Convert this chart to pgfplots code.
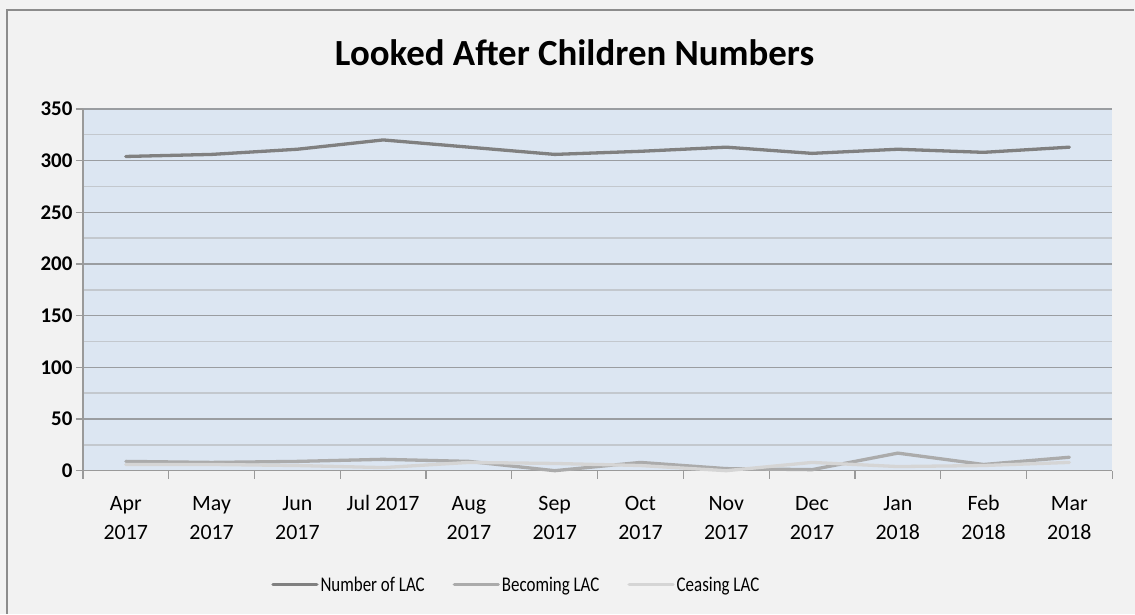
\documentclass[border=0pt]{standalone}
\usepackage{fontspec}
\setmainfont{Carlito}
\newfontfamily\legendfont[FakeStretch=0.81]{Carlito}
\usepackage{pgfplots}
\pgfplotsset{compat=1.18}
\usetikzlibrary{backgrounds}

\definecolor{chartbg}{HTML}{F2F2F2}
\definecolor{plotbg}{HTML}{DCE6F2}
\definecolor{framegray}{HTML}{8C8C8C}
\definecolor{majorgrid}{HTML}{9A9DA1}
\definecolor{minorgrid}{HTML}{C3C8CE}
\definecolor{axisgray}{HTML}{9A9A9A}
\definecolor{lacdark}{HTML}{808080}
\definecolor{lacmid}{HTML}{ABABAB}
\definecolor{laclight}{HTML}{D5D5D5}

\begin{document}
\begin{tikzpicture}[show background rectangle,
  background rectangle/.style={fill=chartbg, draw=none},
  inner frame sep=0pt]
\begin{axis}[
  scale only axis, width=1030bp, height=362bp,
  xmin=0.5, xmax=12.5, ymin=0, ymax=350,
  clip=false,
  axis line style={draw=none},
  axis background/.style={fill=plotbg},
  tick pos=left,
  tick align=outside,
  major tick length=7bp, minor tick length=8bp,
  xtick={1,...,12},
  xticklabels={{\strut Apr\\2017},{\strut May\\2017},{\strut Jun\\2017},{\strut Jul 2017},{\strut Aug\\2017},{\strut Sep\\2017},{\strut Oct\\2017},{\strut Nov\\2017},{\strut Dec\\2017},{\strut Jan\\2018},{\strut Feb\\2018},{\strut Mar\\2018}},
  minor xtick={0.5,1.5,...,12.5},
  major x tick style={draw=none},
  minor x tick style={axisgray, line width=1.2bp},
  xticklabel style={align=center, font=\fontsize{22}{29}\selectfont, anchor=north, yshift=-9bp},
  ytick={0,50,...,350},
  minor ytick={25,75,...,325},
  major y tick style={axisgray, line width=1.2bp},
  minor y tick style={draw=none},
  yticklabel style={font=\fontsize{21}{21}\selectfont\bfseries},
  /pgf/number format/assume math mode=true,
  ymajorgrids, yminorgrids,
  major grid style={majorgrid, line width=1.4bp},
  minor grid style={minorgrid, line width=1.4bp},
  legend columns=3,
  legend style={at={(0.421,-0.315)}, anchor=center, draw=none, fill=none,
    font=\legendfont\fontsize{21}{21}\selectfont,
    /tikz/every even column/.append style={column sep=26bp}},
  legend image code/.code={\draw[#1] (0bp,0bp) -- (44bp,0bp);},
  every axis plot/.append style={line join=round, line cap=round},
]
% page extent around the plot box
\path ([shift={(-83bp,-143bp)}]rel axis cs:0,0) rectangle ([shift={(22bp,109bp)}]rel axis cs:1,1);
% outer chart frame
\draw[framegray, line width=1.5bp] ([shift={(-76bp,-143bp)}]rel axis cs:0,0)
  -- ([shift={(-76bp,99bp)}]rel axis cs:0,1) -- ([shift={(22bp,99bp)}]rel axis cs:1,1);
% left and bottom axis lines
\draw[axisgray, line width=1.2bp] (rel axis cs:0,1) -- (rel axis cs:0,0) -- (rel axis cs:1,0);
% chart title
\node[anchor=base, font=\fontsize{37}{37}\selectfont\bfseries]
  at ([shift={(492bp,43bp)}]rel axis cs:0,1) {Looked After Children Numbers};
\addplot[lacdark, line width=3.3bp] coordinates {
  (1,304) (2,306) (3,311) (4,320) (5,313) (6,306)
  (7,309) (8,313) (9,307) (10,311) (11,308) (12,313)};
\addlegendentry{Number of LAC}
\addplot[lacmid, line width=3.3bp] coordinates {
  (1,9) (2,8) (3,9) (4,11) (5,9) (6,0)
  (7,8) (8,2) (9,1) (10,17) (11,6) (12,13)};
\addlegendentry{Becoming LAC}
\addplot[laclight, line width=3.3bp] coordinates {
  (1,6) (2,6) (3,5) (4,3) (5,8) (6,7)
  (7,5) (8,0) (9,8) (10,4) (11,5) (12,8)};
\addlegendentry{Ceasing LAC}
\end{axis}
\end{tikzpicture}
\end{document}
